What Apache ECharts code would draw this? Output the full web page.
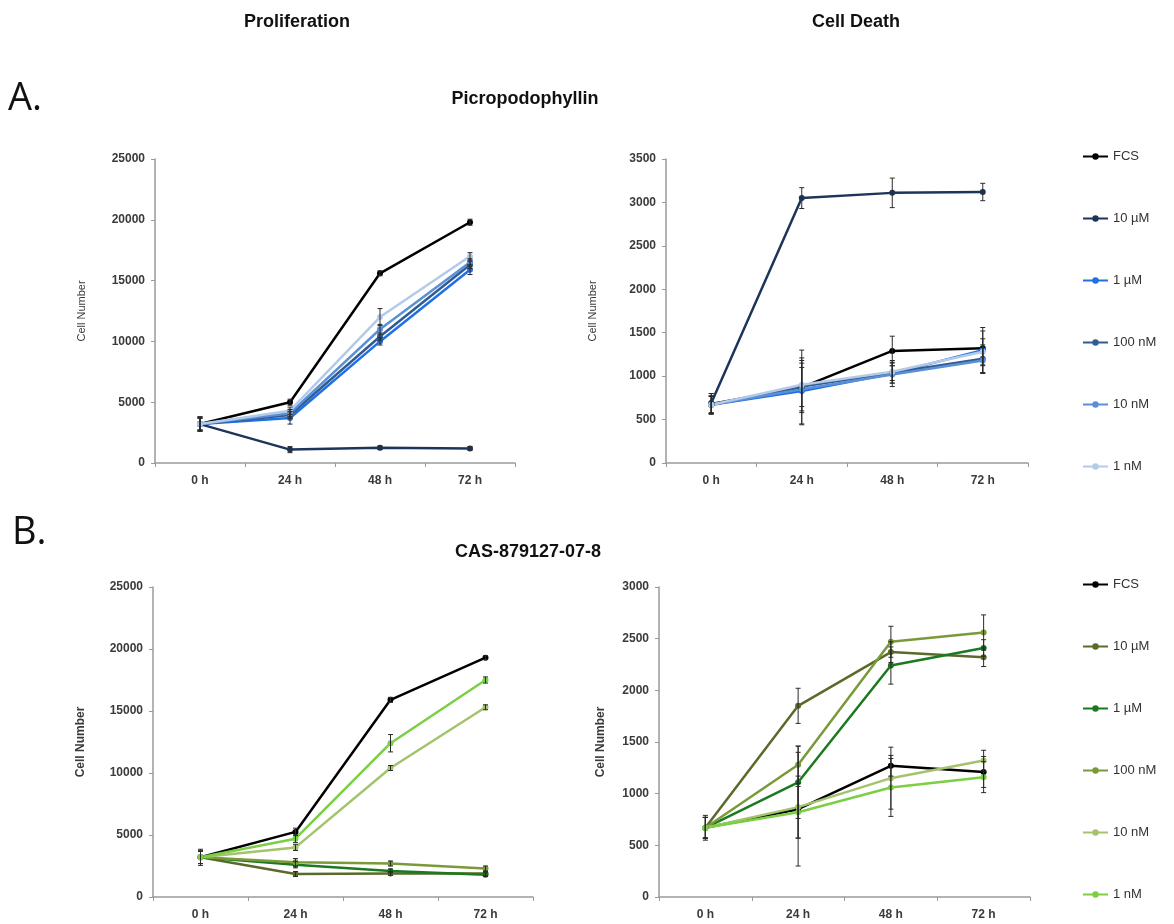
<!DOCTYPE html>
<html>
<head>
<meta charset="utf-8">
<title>Proliferation and Cell Death</title>
<script src="https://cdn.jsdelivr.net/npm/echarts@6/dist/echarts.min.js"></script>
<style>
  html, body { margin: 0; padding: 0; background: #ffffff; }
  #chart { width: 1174px; height: 924px; }
</style>
</head>
<body>
<div id="chart"></div>
<script>
// Time points and treatment groups
const timepoints = ['0 h', '24 h', '48 h', '72 h'];
const doses = ['FCS', '10 µM', '1 µM', '100 nM', '10 nM', '1 nM'];

// A. Picropodophyllin – proliferation (cell number), mean and error
const profA_FCS   = [3200, 5000, 15600, 19800];
const profA_10uM  = [3200, 1100, 1250, 1200];
const profA_1uM   = [3200, 3700, 10000, 15900];
const profA_100nM = [3200, 3950, 10400, 16300];
const profA_10nM  = [3200, 4100, 11000, 16500];
const profA_1nM   = [3200, 4300, 12000, 17000];
const profA_err = [
  [600, 250, 200, 250],
  [600, 250, 150, 150],
  [500, 500, 300, 400],
  [500, 300, 300, 300],
  [500, 300, 400, 300],
  [500, 300, 700, 300]
];

// A. Picropodophyllin – cell death
const deathA_FCS   = [680, 870, 1290, 1320];
const deathA_10uM  = [690, 3050, 3110, 3120];
const deathA_1uM   = [670, 830, 1030, 1300];
const deathA_100nM = [670, 880, 1040, 1200];
const deathA_10nM  = [670, 850, 1020, 1180];
const deathA_1nM   = [670, 900, 1050, 1280];
const deathA_err = [
  [120, 430, 170, 200],
  [110, 120, 170, 100],
  [100, 380, 150, 260],
  [100, 300, 120, 160],
  [100, 250, 100, 150],
  [100, 250, 100, 150]
];

// B. CAS-879127-07-8 – proliferation
const profB_FCS   = [3200, 5250, 15900, 19300];
const profB_10uM  = [3200, 1850, 1900, 1900];
const profB_1uM   = [3200, 2600, 2100, 1800];
const profB_100nM = [3200, 2800, 2700, 2300];
const profB_10nM  = [3200, 4000, 10400, 15300];
const profB_1nM   = [3200, 4700, 12400, 17500];
const profB_err = [
  [650, 300, 200, 150],
  [500, 200, 150, 150],
  [500, 250, 150, 150],
  [500, 300, 200, 200],
  [500, 250, 200, 200],
  [500, 300, 700, 250]
];

// B. CAS-879127-07-8 – cell death
const deathB_FCS   = [670, 850, 1270, 1210];
const deathB_10uM  = [670, 1850, 2370, 2320];
const deathB_1uM   = [670, 1110, 2240, 2410];
const deathB_100nM = [670, 1280, 2470, 2560];
const deathB_10nM  = [670, 870, 1150, 1320];
const deathB_1nM   = [670, 820, 1060, 1160];
const deathB_err = [
  [120, 550, 100, 150],
  [100, 170, 100, 90],
  [100, 350, 180, 80],
  [100, 180, 150, 170],
  [100, 300, 300, 100],
  [100, 250, 280, 150]
];

const colorsA = ['#000000', '#1d355a', '#1f6fe8', '#2f5d92', '#5b90d6', '#b3cae8'];
const colorsB = ['#000000', '#5a6a2a', '#1b7a1f', '#7a9a3a', '#a3c46c', '#7acf44'];

const panels = [
  { key: 'A', grid: 0, series: [profA_FCS, profA_10uM, profA_1uM, profA_100nM, profA_10nM, profA_1nM], err: profA_err, colors: colorsA },
  { key: 'A', grid: 1, series: [deathA_FCS, deathA_10uM, deathA_1uM, deathA_100nM, deathA_10nM, deathA_1nM], err: deathA_err, colors: colorsA },
  { key: 'B', grid: 2, series: [profB_FCS, profB_10uM, profB_1uM, profB_100nM, profB_10nM, profB_1nM], err: profB_err, colors: colorsB },
  { key: 'B', grid: 3, series: [deathB_FCS, deathB_10uM, deathB_1uM, deathB_100nM, deathB_10nM, deathB_1nM], err: deathB_err, colors: colorsB }
];

const grids = [
  { left: 155, top: 159, width: 360, height: 304 },
  { left: 666, top: 159, width: 362, height: 304 },
  { left: 153, top: 587, width: 380, height: 310 },
  { left: 659, top: 587, width: 371, height: 310 }
];

const fontFam = '"Liberation Sans", Arial, sans-serif';
const axisLine = { lineStyle: { color: '#9a9a9a', width: 1.5 } };
const tickLabel = { color: '#3a3a3a', fontFamily: fontFam, fontWeight: 'bold', fontSize: 12 };

const xAxes = grids.map((g, i) => ({
  type: 'category',
  gridIndex: i,
  data: timepoints,
  boundaryGap: true,
  axisLine: axisLine,
  axisTick: { show: true, alignWithLabel: false, length: 4, lineStyle: { color: '#9a9a9a' } },
  axisLabel: Object.assign({ margin: 12, interval: 0 }, tickLabel),
  splitLine: { show: false }
}));

const yCfg = [
  { max: 25000, interval: 5000, nameGap: 68, bold: false, size: 11 },
  { max: 3500, interval: 500, nameGap: 68, bold: false, size: 11 },
  { max: 25000, interval: 5000, nameGap: 66, bold: true, size: 12 },
  { max: 3000, interval: 500, nameGap: 52, bold: true, size: 12 }
];

const yAxes = yCfg.map((c, i) => ({
  type: 'value',
  gridIndex: i,
  min: 0,
  max: c.max,
  interval: c.interval,
  name: 'Cell Number',
  nameLocation: 'middle',
  nameGap: c.nameGap,
  nameRotate: 90,
  nameTextStyle: { color: '#3a3a3a', fontFamily: fontFam, fontSize: c.size, fontWeight: c.bold ? 'bold' : 'normal' },
  axisLine: { show: true, lineStyle: { color: '#9a9a9a', width: 1.5 } },
  axisTick: { show: true, length: 4, lineStyle: { color: '#9a9a9a' } },
  axisLabel: Object.assign({ margin: 10, formatter: v => String(v) }, tickLabel),
  splitLine: { show: false }
}));

// Error bars drawn as vertical whiskers with short caps
function errorRender(params, api) {
  const x = api.value(0);
  const lo = api.coord([x, api.value(1)]);
  const hi = api.coord([x, api.value(2)]);
  const cap = 2.5;
  const style = { stroke: '#2a2a2a', lineWidth: 1 };
  return {
    type: 'group',
    children: [
      { type: 'line', shape: { x1: lo[0], y1: lo[1], x2: hi[0], y2: hi[1] }, style: style },
      { type: 'line', shape: { x1: lo[0] - cap, y1: lo[1], x2: lo[0] + cap, y2: lo[1] }, style: style },
      { type: 'line', shape: { x1: hi[0] - cap, y1: hi[1], x2: hi[0] + cap, y2: hi[1] }, style: style }
    ]
  };
}

const series = [];
panels.forEach(p => {
  p.series.forEach((vals, k) => {
    series.push({
      type: 'line',
      name: p.key + '|' + doses[k],
      xAxisIndex: p.grid,
      yAxisIndex: p.grid,
      data: vals,
      color: p.colors[k],
      symbol: 'circle',
      symbolSize: 6,
      lineStyle: { width: 2.5, color: p.colors[k] },
      itemStyle: { color: p.colors[k] },
      z: 2
    });
  });
  p.series.forEach((vals, k) => {
    series.push({
      type: 'custom',
      name: p.key + '|' + doses[k] + '|err',
      xAxisIndex: p.grid,
      yAxisIndex: p.grid,
      renderItem: errorRender,
      encode: { x: 0, y: [1, 2] },
      data: vals.map((v, j) => [j, v - p.err[k][j], v + p.err[k][j]]),
      z: 3,
      silent: true
    });
  });
});

const legendBase = {
  orient: 'vertical',
  left: 1077,
  itemWidth: 25,
  itemHeight: 8,
  itemGap: 49,
  selectedMode: false,
  formatter: name => name.split('|')[1],
  textStyle: { color: '#333333', fontFamily: fontFam, fontSize: 13 }
};

const titleFont = 'bold 18px ' + fontFam;

const option = {
  backgroundColor: '#ffffff',
  animation: false,
  grid: grids,
  xAxis: xAxes,
  yAxis: yAxes,
  legend: [
    Object.assign({ top: 145, data: doses.map(d => 'A|' + d) }, legendBase),
    Object.assign({ top: 573, data: doses.map(d => 'B|' + d) }, legendBase)
  ],
  graphic: [
    { type: 'text', x: 297, y: 13, style: { text: 'Proliferation', font: titleFont, fill: '#111', textAlign: 'center' } },
    { type: 'text', x: 856, y: 13, style: { text: 'Cell Death', font: titleFont, fill: '#111', textAlign: 'center' } },
    { type: 'text', left: 8, top: 80, style: { text: 'A.', font: '38px "Open Sans", "Noto Sans", sans-serif', fill: '#111' } },
    { type: 'text', x: 525, y: 90, style: { text: 'Picropodophyllin', font: titleFont, fill: '#111', textAlign: 'center' } },
    { type: 'text', left: 12, top: 514, style: { text: 'B.', font: '38px "Open Sans", "Noto Sans", sans-serif', fill: '#111' } },
    { type: 'text', x: 528, y: 543, style: { text: 'CAS-879127-07-8', font: titleFont, fill: '#111', textAlign: 'center' } }
  ],
  series: series
};

const chart = echarts.init(document.getElementById('chart'), null, { renderer: 'canvas' });
chart.setOption(option);
</script>
</body>
</html>
